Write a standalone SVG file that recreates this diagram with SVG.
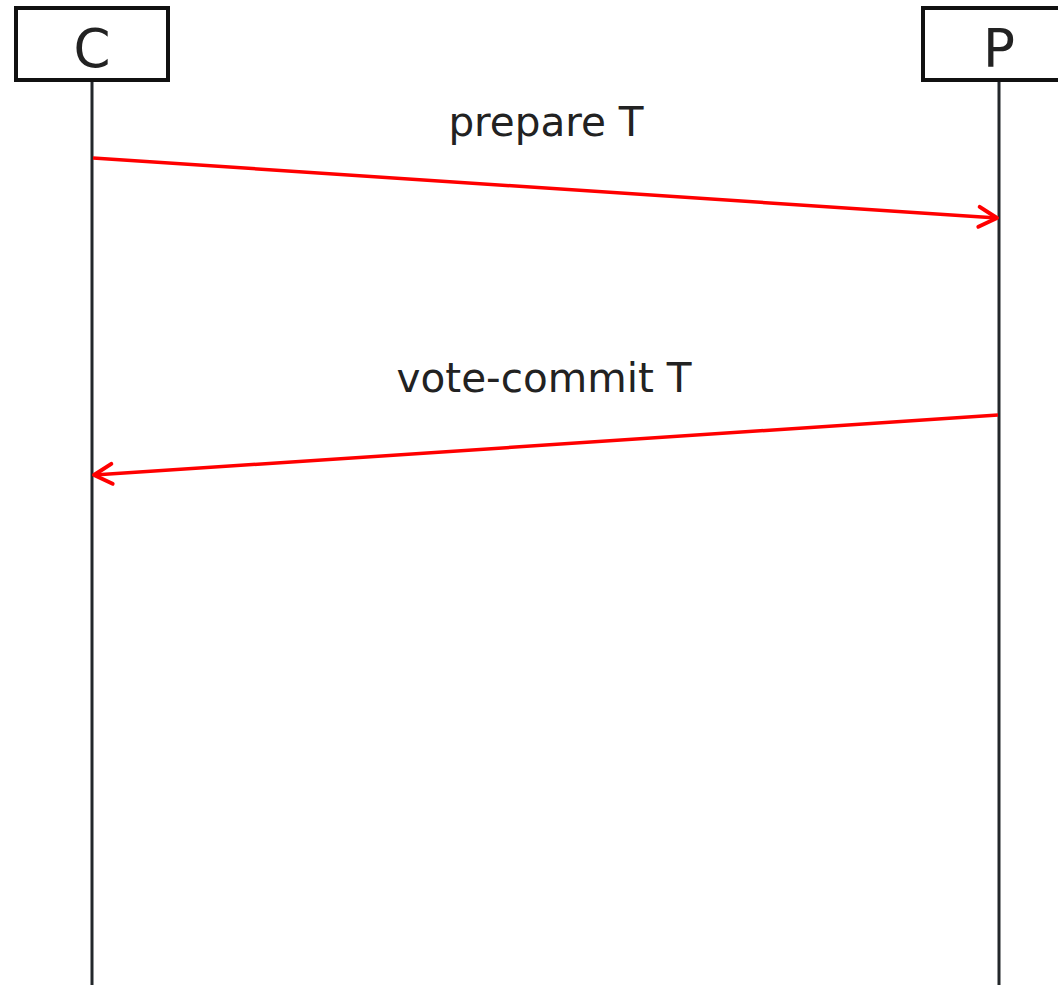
<svg xmlns="http://www.w3.org/2000/svg" width="1058" height="985" viewBox="0 0 1058 985">
<style>
.box{fill:#fff;stroke:#111;stroke-width:4}
.life{stroke:#23272b;stroke-width:3}
.name{font-family:"DejaVu Sans",sans-serif;font-size:53px;fill:#222;text-anchor:middle}
.msg{stroke:#f00;stroke-width:3.5;fill:none}
.lbl{font-family:"DejaVu Sans",sans-serif;font-size:40.5px;fill:#222;text-anchor:middle}
</style>
<defs>
<marker id="arr" viewBox="0 0 26 26" refX="21" refY="13" markerWidth="26" markerHeight="26" markerUnits="userSpaceOnUse" orient="auto">
<path d="M3,3 L21,13 L3,23" fill="none" stroke="#f00" stroke-width="4" stroke-linecap="round" stroke-linejoin="round"/>
</marker>
</defs>
<g id="lifeline-C">
<line class="life" x1="92" y1="80" x2="92" y2="985"/>
<rect class="box" x="16" y="8" width="152" height="72"/>
<text class="name" x="92" y="67">C</text>
</g>
<g id="lifeline-P">
<line class="life" x1="999" y1="80" x2="999" y2="985"/>
<rect class="box" x="923" y="8" width="152" height="72"/>
<text class="name" x="999" y="67">P</text>
</g>
<g id="connectors">
<line class="msg" x1="93" y1="158" x2="997" y2="218" marker-end="url(#arr)"/>
<line class="msg" x1="998" y1="415" x2="94" y2="475" marker-end="url(#arr)"/>
<text class="lbl" x="546" y="136">prepare T</text>
<text class="lbl" x="544" y="392">vote-commit T</text>
</g>
</svg>
